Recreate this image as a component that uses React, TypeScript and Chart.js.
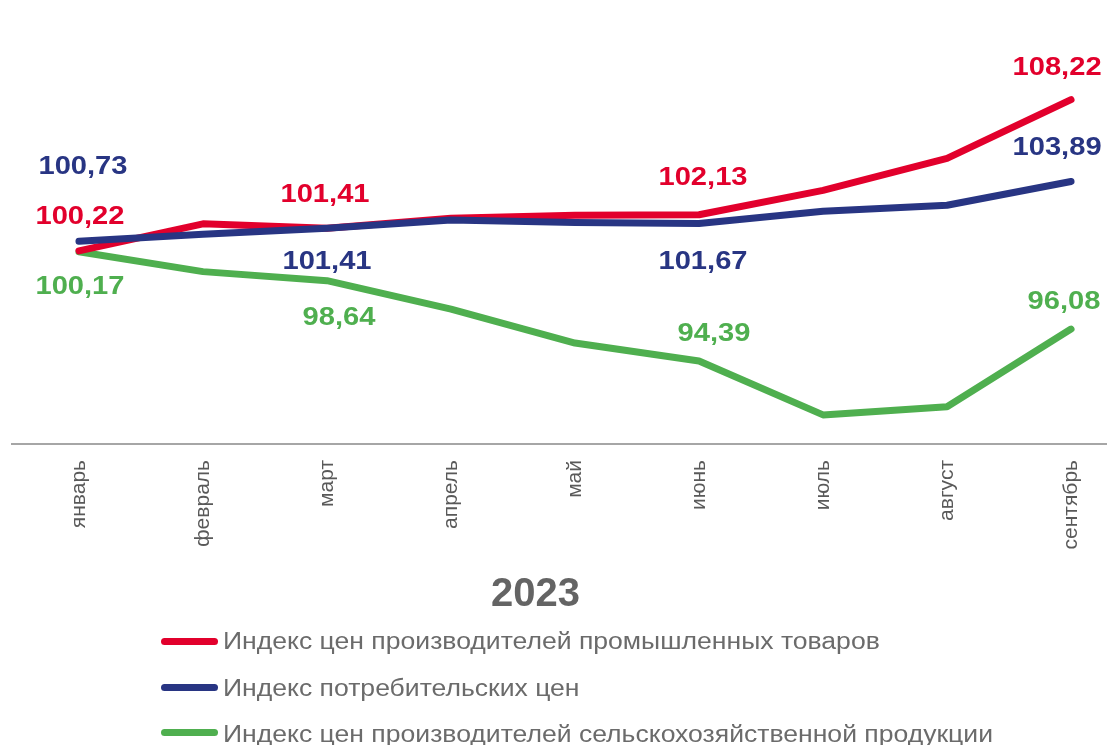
import React, { useEffect, useRef } from "react";
import { Chart, registerables } from "chart.js";

Chart.register(...registerables);

const months = ["январь", "февраль", "март", "апрель", "май", "июнь", "июль", "август", "сентябрь"];
const industrialPrices = [100.22, 101.65, 101.41, 101.95, 102.1, 102.13, 103.42, 105.11, 108.22];
const consumerPrices = [100.73, 101.1, 101.41, 101.85, 101.72, 101.67, 102.31, 102.63, 103.89];
const agriculturalPrices = [100.17, 99.12, 98.64, 97.14, 95.34, 94.39, 91.54, 91.97, 96.08];
const labeledMonths = [0, 2, 5, 8];
const yearTitle = "2023";

const seriesNames = [
  "Индекс цен производителей промышленных товаров",
  "Индекс потребительских цен",
  "Индекс цен производителей сельскохозяйственной продукции",
];
const seriesColors = ["#E2002C", "#283583", "#4FAF4F"];

// label offsets (style only) for labeled months, per series
const labelOffsets = [
  [[1, -34], [-2, -34], [4, -37], [-14, -32]],
  [[4, -74], [0, 33], [4, 38], [-14, -34]],
  [[1, 35], [12, 37], [15, -27], [-7, -27]],
];

const fmt = (v: number) => v.toFixed(2).replace(".", ",");

export default function App() {
  const canvasRef = useRef<HTMLCanvasElement | null>(null);

  useEffect(() => {
    const canvas = canvasRef.current;
    if (!canvas) return;
    const allSeries = [industrialPrices, consumerPrices, agriculturalPrices];

    const labelPlugin = {
      id: "valueLabels",
      afterDatasetsDraw(chart: any) {
        const ctx = chart.ctx;
        allSeries.forEach((values, si) => {
          const meta = chart.getDatasetMeta(si);
          labeledMonths.forEach((idx, k) => {
            const pt = meta.data[idx];
            if (!pt) return;
            const [dx, dy] = labelOffsets[si][k];
            ctx.save();
            ctx.font = 'bold 26px "Liberation Sans", Arial, sans-serif';
            ctx.fillStyle = seriesColors[si];
            ctx.textAlign = "center";
            ctx.textBaseline = "middle";
            ctx.translate(pt.x + dx, pt.y + dy);
            ctx.scale(1.12, 1);
            ctx.fillText(fmt(values[idx]), 0, 0);
            ctx.restore();
          });
        });
      },
    };

    const chart = new Chart(canvas, {
      type: "line",
      data: {
        datasets: allSeries.map((values, si) => ({
          label: seriesNames[si],
          data: values.map((v, i) => ({ x: i, y: v })),
          borderColor: seriesColors[si],
          backgroundColor: seriesColors[si],
          borderWidth: 7,
          borderCapStyle: "round",
          borderJoinStyle: "round",
          pointRadius: 0,
          tension: 0,
          order: si === 1 ? 0 : si === 0 ? 1 : 2,
        })),
      },
      options: {
        animation: false,
        responsive: false,
        maintainAspectRatio: false,
        layout: { padding: { top: 66, left: 12, right: 0, bottom: 0 }, autoPadding: false },
        plugins: { legend: { display: false }, tooltip: { enabled: false }, title: { display: false } },
        scales: {
          x: {
            type: "linear",
            min: -0.54,
            max: 8.29,
            grid: { display: false },
            border: { display: true, color: "#A6A6A6", width: 2 },
            ticks: {
              stepSize: 1,
              includeBounds: false,
              autoSkip: false,
              maxRotation: 90,
              minRotation: 90,
              padding: 8,
              color: "#595959",
              font: { family: '"Liberation Sans", Arial, sans-serif', size: 21 },
              callback: (v: any) => (Number.isInteger(v) && months[v] ? months[v] : ""),
            },
            afterFit: (scale: any) => {
              scale.height = 745 - 444;
            },
          },
          y: {
            display: false,
            min: 90,
            max: 110,
          },
        },
      },
      plugins: [labelPlugin],
    } as any);
    return () => chart.destroy();
  }, []);

  const legendRows = [
    { line: 641, baseline: 649 },
    { line: 687, baseline: 696 },
    { line: 732, baseline: 742 },
  ];

  return (
    <div style={{ position: "absolute", left: 0, top: 0, width: 1107, height: 745, overflow: "hidden", background: "#fff" }}>
      <canvas ref={canvasRef} width={1107} height={745} style={{ position: "absolute", left: 0, top: 0, width: 1107, height: 745 }} />
      <div
        style={{
          position: "absolute",
          left: 0,
          width: 1071,
          top: 568,
          lineHeight: "48px",
          fontSize: 40,
          fontWeight: "bold",
          fontFamily: '"Liberation Sans", Arial, sans-serif',
          color: "#646464",
          textAlign: "center",
        }}
      >
        {yearTitle}
      </div>
      {seriesNames.map((name, i) => (
        <React.Fragment key={name}>
          <div
            style={{
              position: "absolute",
              left: 161,
              width: 57,
              top: legendRows[i].line - 3.5,
              height: 7,
              borderRadius: 4,
              background: seriesColors[i],
            }}
          />
          <div
            style={{
              position: "absolute",
              left: 223,
              top: legendRows[i].baseline - 23,
              lineHeight: "30px",
              fontSize: 23,
              fontFamily: '"Liberation Sans", Arial, sans-serif',
              color: "#6B6B6B",
              whiteSpace: "nowrap",
              transform: "scaleX(1.155)",
              transformOrigin: "left center",
            }}
          >
            {name}
          </div>
        </React.Fragment>
      ))}
    </div>
  );
}
